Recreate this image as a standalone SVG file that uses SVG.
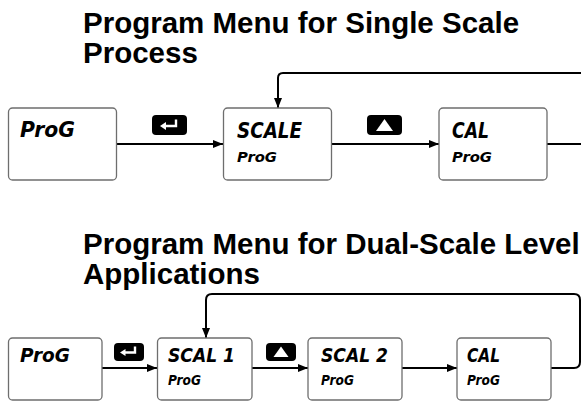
<svg xmlns="http://www.w3.org/2000/svg" width="581" height="401" viewBox="0 0 581 401">
<defs>
<style>
.title{font-family:"Liberation Sans",Arial,sans-serif;font-weight:bold;font-size:29.5px;fill:#000}
.box{fill:#fff;stroke:#6e6e6e;stroke-width:1.3}
.lcd{font-family:"DejaVu Sans","Liberation Sans",sans-serif;font-weight:bold;fill:#000;font-style:oblique}
.conn{fill:none;stroke:#000;stroke-width:2}
.key{fill:#000}
.keyline{fill:none;stroke:#fff;stroke-width:2.4}
</style>
<marker id="ah" viewBox="0 0 10 8" refX="10" refY="4" markerWidth="10" markerHeight="8" markerUnits="userSpaceOnUse" orient="auto">
<path d="M0,0 L10,4 L0,8 z" fill="#000"/>
</marker>
</defs>
<rect width="581" height="401" fill="#fff"/>

<text class="title" x="83" y="33">Program Menu for Single Scale</text>
<text class="title" x="83" y="63">Process</text>
<text class="title" x="83" y="254">Program Menu for Dual-Scale Level</text>
<text class="title" x="83" y="284">Applications</text>

<g id="connectors">
<path class="conn" d="M117,144 H223" marker-end="url(#ah)"/>
<path class="conn" d="M332,144 H439" marker-end="url(#ah)"/>
<path class="conn" d="M547,144 H581"/>
<path class="conn" d="M581,73 H283 Q278,73 278,78 V108" marker-end="url(#ah)"/>
<path class="conn" d="M102,368 H157" marker-end="url(#ah)"/>
<path class="conn" d="M252,368 H308" marker-end="url(#ah)"/>
<path class="conn" d="M402,368 H457" marker-end="url(#ah)"/>
<path class="conn" d="M551,368 H574 Q580,368 580,362 V300 Q580,294 574,294 H212 Q206,294 206,300 V338" marker-end="url(#ah)"/>
</g>

<g id="key-enter-1">
<rect class="key" x="152" y="115" width="35" height="20" rx="4"/>
<path class="keyline" d="M176,119.5 V126 H164"/>
<path d="M160,126 L166,122 L166,130 z" fill="#fff"/>
</g>
<g id="key-up-1">
<rect class="key" x="367" y="115" width="35" height="20" rx="4"/>
<path d="M384.5,119 L393,131 L376,131 z" fill="#fff"/>
</g>
<g id="key-enter-2">
<rect class="key" x="114" y="343" width="30" height="18" rx="4"/>
<path class="keyline" d="M135,346.5 V352.5 H124"/>
<path d="M120,352.5 L125.5,349 L125.5,356 z" fill="#fff"/>
</g>
<g id="key-up-2">
<rect class="key" x="266" y="343" width="30" height="18" rx="4"/>
<path d="M281,346.5 L288.5,357 L273.5,357 z" fill="#fff"/>
</g>

<g id="node-prog-1">
<rect class="box" x="8.5" y="108" width="108" height="72" rx="4"/>
<text class="lcd" x="20" y="137" font-size="21" textLength="55" lengthAdjust="spacingAndGlyphs">ProG</text>
</g>
<g id="node-scale">
<rect class="box" x="223.5" y="108" width="108" height="72" rx="4"/>
<text class="lcd" x="237" y="138" font-size="21" textLength="65" lengthAdjust="spacingAndGlyphs">SCALE</text>
<text class="lcd" x="237" y="162" font-size="14" textLength="40" lengthAdjust="spacingAndGlyphs">ProG</text>
</g>
<g id="node-cal-1">
<rect class="box" x="439" y="108" width="108" height="72" rx="4"/>
<text class="lcd" x="452" y="138" font-size="21" textLength="37" lengthAdjust="spacingAndGlyphs">CAL</text>
<text class="lcd" x="452" y="162" font-size="14" textLength="40" lengthAdjust="spacingAndGlyphs">ProG</text>
</g>

<g id="node-prog-2">
<rect class="box" x="8.5" y="338" width="93.5" height="62" rx="4"/>
<text class="lcd" x="20" y="362" font-size="19" textLength="50" lengthAdjust="spacingAndGlyphs">ProG</text>
</g>
<g id="node-scal1">
<rect class="box" x="157.5" y="338" width="94.5" height="62" rx="4"/>
<text class="lcd" x="168" y="362" font-size="19" textLength="67" lengthAdjust="spacingAndGlyphs">SCAL 1</text>
<text class="lcd" x="168" y="385" font-size="14" textLength="33" lengthAdjust="spacingAndGlyphs">ProG</text>
</g>
<g id="node-scal2">
<rect class="box" x="308" y="338" width="94" height="62" rx="4"/>
<text class="lcd" x="321" y="362" font-size="19" textLength="67" lengthAdjust="spacingAndGlyphs">SCAL 2</text>
<text class="lcd" x="321" y="385" font-size="14" textLength="33" lengthAdjust="spacingAndGlyphs">ProG</text>
</g>
<g id="node-cal-2">
<rect class="box" x="457" y="338" width="94" height="62" rx="4"/>
<text class="lcd" x="467" y="362" font-size="19" textLength="33" lengthAdjust="spacingAndGlyphs">CAL</text>
<text class="lcd" x="467" y="385" font-size="14" textLength="33" lengthAdjust="spacingAndGlyphs">ProG</text>
</g>
</svg>
